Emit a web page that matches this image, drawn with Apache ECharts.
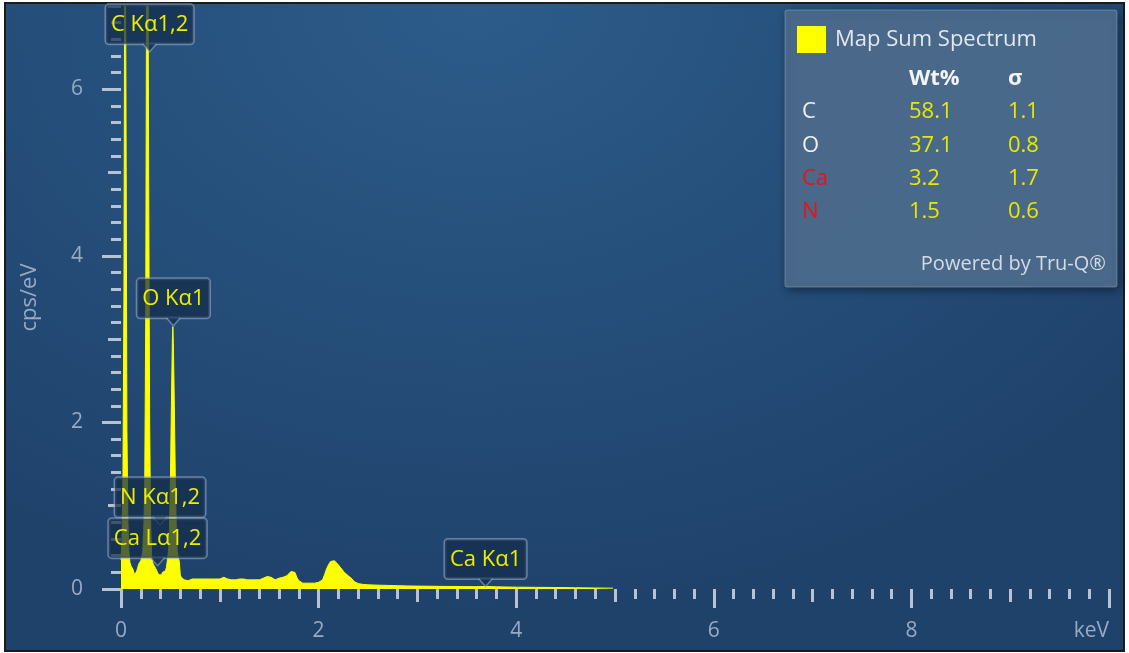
<!DOCTYPE html>
<html><head><meta charset="utf-8">
<script src="https://cdn.jsdelivr.net/npm/echarts@6/dist/echarts.min.js"></script>
<style>
html,body{margin:0;padding:0;background:#ffffff;width:1129px;height:653px;overflow:hidden;}
#bg{position:absolute;left:4px;top:2px;width:1121px;height:650px;box-sizing:border-box;border:2px solid #1b1b1b;
background:radial-gradient(ellipse 75% 95% at 42% 0%, #2d5c8a 0%, #26507c 45%, #1f426b 100%);}
#chart{position:absolute;left:0;top:0;width:1129px;height:653px;}
</style></head>
<body><div id="bg"></div><div id="chart"></div>
<script>
// ---- data ----
const energyKeV = [
 0.00,0.01,0.02,0.03,0.04,0.05,0.06,0.07,0.08,0.09,
 0.10,0.11,0.12,0.13,0.14,0.15,0.16,0.17,0.18,0.19,
 0.20,0.21,0.22,0.23,0.24,0.25,0.26,0.27,0.28,0.29,
 0.30,0.31,0.32,0.33,0.34,0.35,0.36,0.37,0.38,0.39,
 0.40,0.41,0.42,0.43,0.44,0.45,0.46,0.47,0.48,0.49,
 0.50,0.51,0.52,0.525,0.53,0.54,0.55,0.56,0.57,0.58,0.59,
 0.60,0.61,0.62,0.64,0.66,0.68,0.70,0.72,0.74,0.76,0.78,
 0.80,0.82,0.84,0.86,0.88,0.90,0.92,0.94,0.96,0.98,
 1.00,1.02,1.04,1.06,1.08,1.10,1.12,1.14,1.16,1.18,
 1.20,1.22,1.24,1.26,1.28,1.30,1.32,1.34,1.36,1.38,
 1.40,1.42,1.44,1.46,1.48,1.50,1.52,1.54,1.56,1.58,
 1.60,1.62,1.64,1.66,1.68,1.70,1.72,1.74,1.76,1.78,
 1.80,1.82,1.84,1.86,1.88,1.90,1.92,1.94,1.96,1.98,
 2.00,2.02,2.04,2.06,2.08,2.10,2.12,2.14,2.16,2.18,
 2.20,2.22,2.24,2.26,2.28,2.30,2.32,2.34,2.36,2.38,
 2.40,2.45,2.50,2.60,2.70,2.80,2.90,3.00,3.20,3.40,
 3.60,3.70,3.80,4.00,4.20,4.40,4.60,4.80,4.98
];
const cpsPerEV = [
 0.35,0.6,1.4,3.6,9.0,6.0,1.9,0.8,0.45,0.32,
 0.28,0.30,0.24,0.20,0.17,0.19,0.22,0.26,0.30,0.31,
 0.34,0.38,0.46,0.70,1.2,3.2,8.0,9.0,5.0,2.0,
 0.80,0.40,0.32,0.29,0.27,0.25,0.24,0.20,0.17,0.16,
 0.18,0.17,0.20,0.21,0.20,0.22,0.26,0.35,0.45,0.70,
 1.3,2.2,3.0,3.15,2.95,2.2,1.3,0.70,0.45,0.38,0.33,
 0.17,0.14,0.12,0.11,0.12,0.10,0.11,0.12,0.13,0.12,0.11,
 0.12,0.11,0.12,0.13,0.12,0.13,0.12,0.13,0.12,0.11,
 0.12,0.13,0.14,0.13,0.12,0.12,0.11,0.12,0.11,0.10,
 0.12,0.13,0.12,0.12,0.11,0.12,0.11,0.10,0.11,0.10,
 0.11,0.12,0.13,0.14,0.15,0.16,0.14,0.12,0.11,0.12,
 0.13,0.14,0.14,0.15,0.16,0.18,0.21,0.23,0.20,0.14,
 0.10,0.08,0.07,0.07,0.07,0.07,0.07,0.07,0.07,0.08,
 0.08,0.09,0.11,0.17,0.24,0.29,0.33,0.35,0.34,0.32,
 0.29,0.26,0.23,0.20,0.18,0.16,0.15,0.12,0.09,0.07,
 0.065,0.055,0.05,0.046,0.043,0.04,0.037,0.035,0.032,0.03,
 0.028,0.03,0.026,0.022,0.02,0.018,0.015,0.012,0.01
];
const xMajorTicks = [0, 2, 4, 6, 8, 10];
const yMajorTicks = [0, 2, 4, 6];
const peakNames = ['C Kα1,2', 'O Kα1', 'N Kα1,2', 'Ca Lα1,2', 'Ca Kα1'];
const peakEnergies = [0.29, 0.53, 0.395, 0.37, 3.69];
const peakMarkerHeights = [6.45, 3.16, 0.77, 0.28, 0.03];
const elements = ['C', 'O', 'Ca', 'N'];
const wtPercent = ['58.1', '37.1', '3.2', '1.5'];
const sigmaValues = ['1.1', '0.8', '1.7', '0.6'];
const flagged = [false, false, true, true];

// ---- chart ----
const FONT = '"Open Sans", "Noto Sans", sans-serif';
const tickColor = '#b7c3d2';
const labelColor = '#98abc2';
const YELLOW = '#ffff00';

const chart = echarts.init(document.getElementById('chart'), null, {renderer: 'canvas'});

function xAxisDef(interval, len, withLabels) {
  const a = {
    type: 'value', min: 0, max: 10, interval: interval, position: 'bottom', offset: 4,
    axisLine: {show: false}, splitLine: {show: false},
    axisTick: {show: true, length: len, lineStyle: {color: tickColor, width: 3}},
    axisLabel: {show: false}
  };
  if (withLabels) {
    a.axisTick.customValues = xMajorTicks;
    a.axisLabel = {show: true, customValues: xMajorTicks, margin: 28, color: labelColor,
      fontSize: 21, fontFamily: FONT, alignMaxLabel: 'right',
      formatter: v => (v === 10 ? 'keV' : String(v))};
  }
  return a;
}
function yAxisDef(interval, len, withLabels) {
  const a = {
    type: 'value', min: 0, max: 7, interval: interval, position: 'left', offset: 14,
    axisLine: {show: false}, splitLine: {show: false},
    axisTick: {show: true, length: len, lineStyle: {color: tickColor, width: 3}},
    axisLabel: {show: false}
  };
  if (withLabels) {
    a.axisTick.customValues = yMajorTicks;
    a.axisLabel = {show: true, customValues: yMajorTicks, margin: 24, color: labelColor,
      fontSize: 21, fontFamily: FONT};
    a.name = 'cps/eV';
    a.nameLocation = 'middle';
    a.nameGap = 66;
    a.nameTextStyle = {color: labelColor, fontSize: 22, fontFamily: FONT};
  }
  return a;
}

const spectrum = energyKeV.map((e, i) => [e, cpsPerEV[i]]);

function renderPeakLabel(params, api) {
  const p = api.coord([api.value(0), api.value(1)]);
  const x = p[0], y = p[1];
  const ph = 8, pw = 7;
  const fill = 'rgba(20,44,74,0.72)';
  const stroke = 'rgba(150,172,198,0.6)';
  return {
    type: 'group',
    children: [
      {type: 'text', x: x, y: y - ph,
        style: {text: peakNames[params.dataIndex], fill: '#eded00', font: '22px ' + FONT,
          align: 'center', verticalAlign: 'bottom',
          backgroundColor: fill, borderColor: stroke, borderWidth: 1.5, borderRadius: 3,
          padding: [9, 5, 8, 5]}},
      {type: 'polygon', shape: {points: [[x - pw, y - ph], [x + pw, y - ph], [x, y]]},
        style: {fill: fill}},
      {type: 'polyline', shape: {points: [[x - pw, y - ph], [x, y], [x + pw, y - ph]]},
        style: {stroke: stroke, lineWidth: 1.5, fill: null}}
    ]
  };
}

const panelX = 785, panelY = 10;
const graphics = [
  {type: 'rect', z: 1, shape: {x: panelX, y: panelY, width: 332, height: 277, r: 2},
    style: {fill: 'rgba(76,107,141,0.96)', stroke: 'rgba(140,165,192,0.55)', lineWidth: 1,
      shadowBlur: 10, shadowColor: 'rgba(0,0,0,0.45)', shadowOffsetX: 2, shadowOffsetY: 3}},
  {type: 'text', z: 5, x: 909, y: 79,
    style: {text: 'Wt%', fill: '#f2f4f7', font: 'bold 22px ' + FONT, align: 'left', verticalAlign: 'middle'}},
  {type: 'text', z: 5, x: 1008, y: 79,
    style: {text: 'σ', fill: '#f2f4f7', font: 'bold 22px ' + FONT, align: 'left', verticalAlign: 'middle'}},
  {type: 'text', z: 5, x: 1106, y: 264,
    style: {text: 'Powered by Tru-Q®', fill: '#d3dbe4', font: '20px ' + FONT, align: 'right', verticalAlign: 'middle'}}
];
elements.forEach((el, i) => {
  const y = 112 + i * 33.4;
  graphics.push({type: 'text', z: 5, x: 802, y: y,
    style: {text: el, fill: flagged[i] ? '#e3141c' : '#eef1f5', font: '22px ' + FONT, align: 'left', verticalAlign: 'middle'}});
  graphics.push({type: 'text', z: 5, x: 909, y: y,
    style: {text: wtPercent[i], fill: '#e8e800', font: '22px ' + FONT, align: 'left', verticalAlign: 'middle'}});
  graphics.push({type: 'text', z: 5, x: 1008, y: y,
    style: {text: sigmaValues[i], fill: '#e8e800', font: '22px ' + FONT, align: 'left', verticalAlign: 'middle'}});
});

chart.setOption({
  animation: false,
  backgroundColor: 'transparent',
  grid: {left: 121, right: 20, top: 6, bottom: 64, containLabel: false},
  xAxis: [xAxisDef(0.2, 10, false), xAxisDef(1, 13, false), xAxisDef(2, 19, true)],
  yAxis: [yAxisDef(0.2, 10, false), yAxisDef(1, 13, false), yAxisDef(2, 19, true)],
  legend: {
    show: true, z: 8, left: 797, top: 26, padding: 0, icon: 'rect', itemWidth: 29, itemHeight: 27, itemGap: 10,
    data: ['Map Sum Spectrum'],
    textStyle: {color: '#e2e8ef', fontSize: 22, fontFamily: FONT, padding: [0, 0, 0, 4]}
  },
  graphic: graphics,
  series: [
    {
      name: 'Map Sum Spectrum', type: 'line', xAxisIndex: 0, yAxisIndex: 0,
      data: spectrum, symbol: 'none', clip: true, z: 3,
      itemStyle: {color: YELLOW},
      lineStyle: {color: YELLOW, width: 1},
      areaStyle: {color: YELLOW, opacity: 1}
    },
    {
      name: 'peaks', type: 'custom', xAxisIndex: 0, yAxisIndex: 0, z: 10, clip: false, silent: true,
      data: peakEnergies.map((e, i) => [e, peakMarkerHeights[i]]),
      renderItem: renderPeakLabel
    }
  ]
});
</script>
</body></html>
